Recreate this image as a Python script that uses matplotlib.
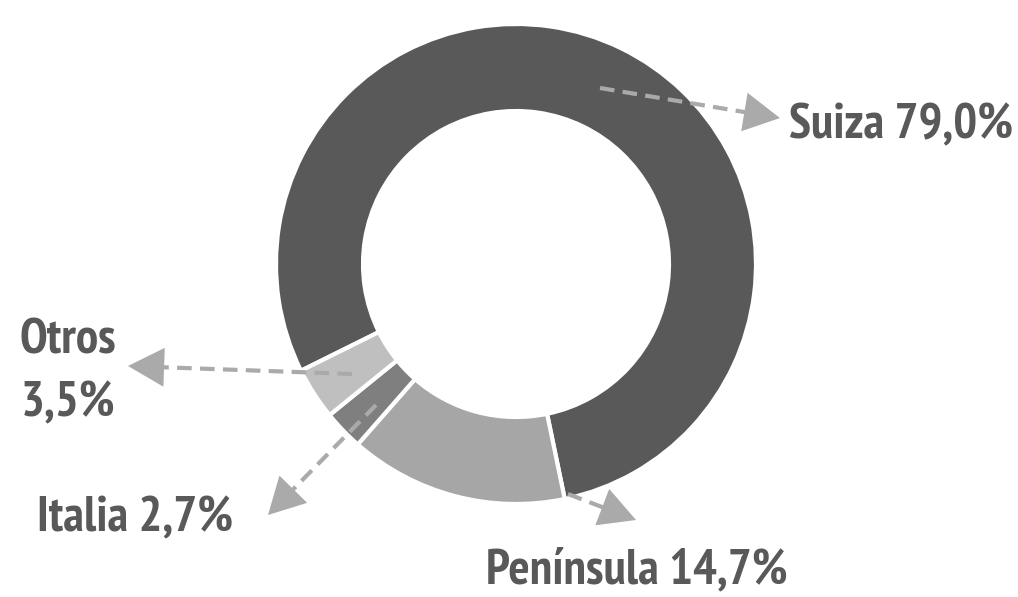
import numpy as np
import matplotlib
matplotlib.use("Agg")
import matplotlib.pyplot as plt

# data
labels = ["Suiza", "Península", "Italia", "Otros"]
shares = [79.0, 14.7, 2.7, 3.5]
colors = ["#595959", "#a6a6a6", "#7f7f7f", "#bfbfbf"]

W, H = 1018, 597
TEXT = "#595959"
ARROW = "#aaaaaa"

plt.rcParams['font.family'] = ['PT Sans Narrow', 'DejaVu Sans']

fig = plt.figure(figsize=(W / 100, H / 100), dpi=100)
ax = fig.add_axes([0, 0, 1, 1])

cx, cy = 516, H - 264
R, r_in = 240, 153

ax.pie(shares, colors=colors, startangle=206.4, counterclock=False,
       center=(cx, cy), radius=R, frame=True,
       wedgeprops=dict(width=R - r_in, edgecolor="white", linewidth=3))

ax.set_xlim(0, W)
ax.set_ylim(0, H)
ax.set_aspect("equal")
ax.axis("off")


def pointer(x0, y0, x1, y1):
    # dashed shaft + solid head, pixel coords from the top
    y0, y1 = H - y0, H - y1
    d = np.array([x1 - x0, y1 - y0], dtype=float)
    u = d / np.hypot(*d)
    hx, hy = x1 - u[0] * 22, y1 - u[1] * 22
    ax.plot([x0, hx], [y0, hy], color=ARROW, lw=3, ls=(0, (3.5, 2)),
            solid_capstyle="butt", dash_capstyle="butt", zorder=5)
    ax.annotate("", xy=(x1, y1), xytext=(hx, hy),
                arrowprops=dict(arrowstyle="-|>,head_length=1.3,head_width=0.7",
                                color=ARROW, lw=0, mutation_scale=20,
                                shrinkA=0, shrinkB=0), zorder=5)


pointer(600, 88, 780, 118)
pointer(352, 374, 128, 366)
pointer(376, 405, 268, 515)
pointer(568, 494, 636, 520)


def pct(v):
    return f"{v:.1f}%".replace(".", ",")


fs = 36
kw = dict(color=TEXT, fontsize=fs, fontweight="bold", va="center")
ax.text(789, H - 126, f"{labels[0]} {pct(shares[0])}", ha="left", **kw)
ax.text(68, H - 341, labels[3], ha="center", **kw)
ax.text(68, H - 404, pct(shares[3]), ha="center", **kw)
ax.text(37, H - 519, f"{labels[2]} {pct(shares[2])}", ha="left", **kw)
ax.text(486, H - 571, f"{labels[1]} {pct(shares[1])}", ha="left", **kw)

fig.savefig("out.png", dpi=100)
